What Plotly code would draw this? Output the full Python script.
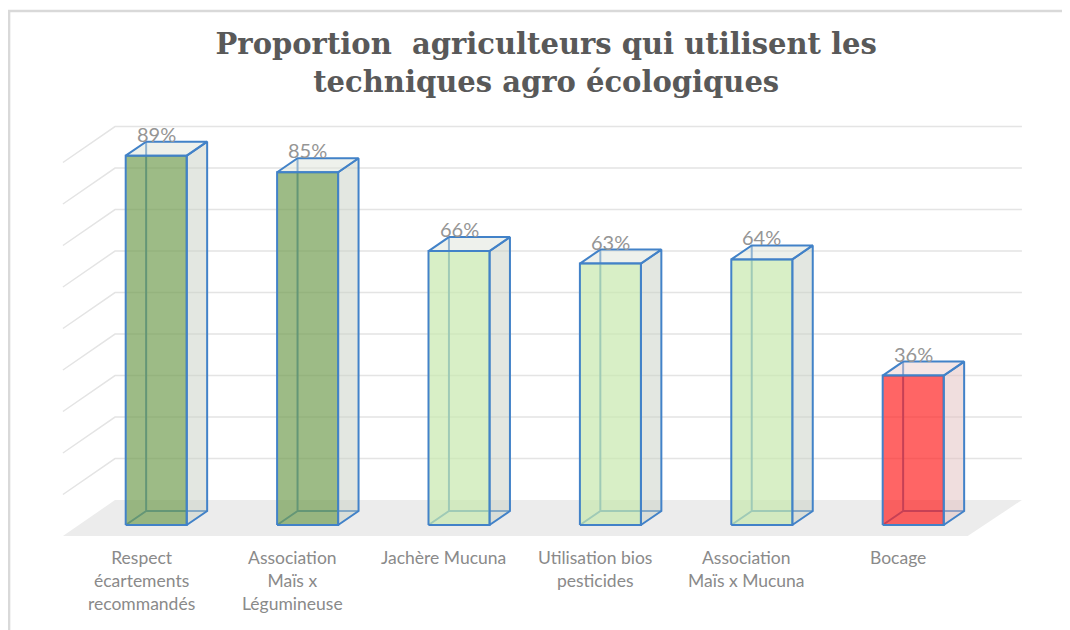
import plotly.graph_objects as go

categories = ["Respect<br>écartements<br>recommandés", "Association<br>Maïs x<br>Légumineuse",
              "Jachère Mucuna", "Utilisation bios<br>pesticides", "Association<br>Maïs x Mucuna", "Bocage"]
values = [89, 85, 66, 63, 64, 36]
grid_ticks = [10, 20, 30, 40, 50, 60, 70, 80, 90]
front_colors = ["rgba(115,158,82,0.7)", "rgba(115,158,82,0.7)", "rgba(199,232,174,0.7)",
                "rgba(199,232,174,0.7)", "rgba(199,232,174,0.7)", "rgba(255,36,36,0.7)"]
side_colors = ["rgba(200,208,196,0.5)"] * 5 + ["rgba(225,189,189,0.5)"]
top_colors = ["rgba(221,227,217,0.5)"] * 5 + ["rgba(235,205,205,0.5)"]

edge = "#4282c8"
w = 0.403      # bar width in category units
dx, dy = 0.135, 3.37   # depth offset (category units, percent)
# floor corners: front edge / back edge
front_y, back_y = -2.65, 6.02
front_l, front_r = -0.616, 5.36
back_l, back_r = -0.272, 5.718

fig = go.Figure()

# floor
fig.add_trace(go.Scatter(
    x=[front_l, front_r, back_r, back_l, front_l],
    y=[front_y, front_y, back_y, back_y, front_y],
    fill="toself", fillcolor="#ececec", line=dict(width=0), mode="lines", hoverinfo="skip"))

# gridlines on the back wall and left wall
gx, gy = [], []
for t in grid_ticks:
    gx += [front_l, back_l, back_r, None]
    gy += [front_y + t, back_y + t, back_y + t, None]
fig.add_trace(go.Scatter(x=gx, y=gy, mode="lines", line=dict(color="#e4e4e4", width=1.5), hoverinfo="skip"))

for i, v in enumerate(values):
    L, R = i - w / 2, i + w / 2
    # hidden edges (seen through the faces)
    fig.add_trace(go.Scatter(
        x=[L, L + dx, L + dx, None, L + dx, R + dx],
        y=[0, dy, v + dy, None, dy, dy],
        mode="lines", line=dict(color=edge, width=2), hoverinfo="skip"))
    # right side face
    fig.add_trace(go.Scatter(
        x=[R, R + dx, R + dx, R, R], y=[0, dy, v + dy, v, 0],
        fill="toself", fillcolor=side_colors[i], mode="lines",
        line=dict(color=edge, width=2), hoverinfo="skip"))
    # top face
    fig.add_trace(go.Scatter(
        x=[L, L + dx, R + dx, R, L], y=[v, v + dy, v + dy, v, v],
        fill="toself", fillcolor=top_colors[i], mode="lines",
        line=dict(color=edge, width=2), hoverinfo="skip"))
    # front face
    fig.add_trace(go.Scatter(
        x=[L, R, R, L, L], y=[0, 0, v, v, 0],
        fill="toself", fillcolor=front_colors[i], mode="lines",
        line=dict(color=edge, width=2), hoverinfo="skip"))
    fig.add_annotation(x=i, y=v + dy, text=f"{v}%", showarrow=False, yanchor="bottom", yshift=-6,
                       font=dict(family="Lato", size=20, color="#959595"))
    fig.add_annotation(x=i - 0.1, y=0, text=categories[i], showarrow=False, yanchor="top", yshift=-20,
                       font=dict(family="Lato", size=17.5, color="#8a8a8a"))

# chart border (page body adds an 8px offset)
fig.add_shape(type="rect", xref="paper", yref="paper", x0=0.001, x1=1.02, y0=-0.02, y1=1 - 3 / 630,
              line=dict(color="#d9d9d9", width=2.5))

fig.update_layout(
    width=1070, height=630, showlegend=False,
    margin=dict(l=0, r=0, t=0, b=0),
    paper_bgcolor="white", plot_bgcolor="white",
    title=dict(text="Proportion\u00a0 agriculteurs qui utilisent les<br>techniques agro écologiques",
               x=0.503, y=0.927, xanchor="center", yanchor="middle",
               font=dict(family="DejaVu Serif", size=29, color="#595959", weight="bold")),
    xaxis=dict(range=[-0.9789, 6.0885], visible=False, fixedrange=True),
    yaxis=dict(range=[-27.23, 124.58], visible=False, fixedrange=True),
)

fig.write_html("out.html")
